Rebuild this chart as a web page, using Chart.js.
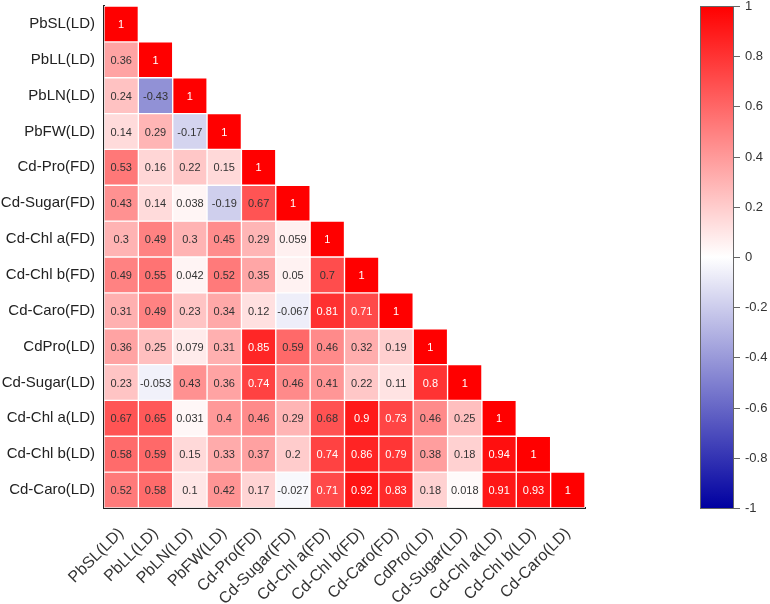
<!DOCTYPE html>
<html>
<head>
  <meta charset="utf-8" />
  <title>Correlation heatmap</title>
  <script src="https://cdn.jsdelivr.net/npm/chart.js"></script>
  <style>
    body { background: white; margin: 0; }
    #wrap { width: 770px; height: 604px; }
  </style>
</head>
<body>
  <div id="wrap"><canvas id="heat"></canvas></div>

  <script>
    const labels = ['PbSL(LD)', 'PbLL(LD)', 'PbLN(LD)', 'PbFW(LD)', 'Cd-Pro(FD)', 'Cd-Sugar(FD)',
      'Cd-Chl a(FD)', 'Cd-Chl b(FD)', 'Cd-Caro(FD)', 'CdPro(LD)', 'Cd-Sugar(LD)',
      'Cd-Chl a(LD)', 'Cd-Chl b(LD)', 'Cd-Caro(LD)'];

    // lower triangle, one row per variable
    const corr = [
      [1],
      [0.36, 1],
      [0.24, -0.43, 1],
      [0.14, 0.29, -0.17, 1],
      [0.53, 0.16, 0.22, 0.15, 1],
      [0.43, 0.14, 0.038, -0.19, 0.67, 1],
      [0.3, 0.49, 0.3, 0.45, 0.29, 0.059, 1],
      [0.49, 0.55, 0.042, 0.52, 0.35, 0.05, 0.7, 1],
      [0.31, 0.49, 0.23, 0.34, 0.12, -0.067, 0.81, 0.71, 1],
      [0.36, 0.25, 0.079, 0.31, 0.85, 0.59, 0.46, 0.32, 0.19, 1],
      [0.23, -0.053, 0.43, 0.36, 0.74, 0.46, 0.41, 0.22, 0.11, 0.8, 1],
      [0.67, 0.65, 0.031, 0.4, 0.46, 0.29, 0.68, 0.9, 0.73, 0.46, 0.25, 1],
      [0.58, 0.59, 0.15, 0.33, 0.37, 0.2, 0.74, 0.86, 0.79, 0.38, 0.18, 0.94, 1],
      [0.52, 0.58, 0.1, 0.42, 0.17, -0.027, 0.71, 0.92, 0.83, 0.18, 0.018, 0.91, 0.93, 1]
    ];

    const cbarTicks = [1, 0.8, 0.6, 0.4, 0.2, 0, -0.2, -0.4, -0.6, -0.8, -1];

    function cellColor(v) {
      if (v >= 0) {
        const c = Math.round(255 * (1 - v));
        return `rgb(255,${c},${c})`;
      }
      const a = -v;
      const c = Math.round(255 * (1 - a));
      const b = Math.round(255 - 95 * a);
      return `rgb(${c},${c},${b})`;
    }

    // one floating-bar dataset per row
    const datasets = corr.map((row, i) => ({
      data: labels.map((_, j) => (j < row.length ? [i - 0.5, i + 0.5] : null)),
      values: row,
      backgroundColor: ctx => cellColor(row[ctx.dataIndex] ?? 0),
      borderColor: 'rgba(255,255,255,0.9)',
      borderWidth: 1,
      borderSkipped: false,
      barPercentage: 1,
      categoryPercentage: 1,
      grouped: false
    }));

    const cellText = {
      id: 'cellText',
      afterDatasetsDraw(chart) {
        const ctx = chart.ctx;
        ctx.save();
        ctx.font = '11px "Liberation Sans", Arial, sans-serif';
        ctx.textAlign = 'center';
        ctx.textBaseline = 'middle';
        chart.data.datasets.forEach((ds, i) => {
          const meta = chart.getDatasetMeta(i);
          ds.values.forEach((v, j) => {
            const el = meta.data[j];
            if (!el) return;
            const p = el.getCenterPoint();
            ctx.fillStyle = v > 0.7 ? '#ffffff' : '#333333';
            ctx.fillText(String(v), p.x, p.y + 1);
          });
        });
        ctx.restore();
      }
    };

    const colorBar = {
      id: 'colorBar',
      afterDraw(chart) {
        const ctx = chart.ctx;
        const { top, bottom } = chart.chartArea;
        const x0 = 700, w = 33;
        ctx.save();
        const g = ctx.createLinearGradient(0, top, 0, bottom);
        g.addColorStop(0, cellColor(1));
        g.addColorStop(0.25, cellColor(0.5));
        g.addColorStop(0.5, cellColor(0));
        g.addColorStop(0.75, cellColor(-0.5));
        g.addColorStop(1, cellColor(-1));
        ctx.fillStyle = g;
        ctx.fillRect(x0, top, w, bottom - top);
        ctx.strokeStyle = '#666';
        ctx.lineWidth = 1;
        ctx.strokeRect(x0 + 0.5, top + 0.5, w, bottom - top);
        ctx.font = '13px "Liberation Sans", Arial, sans-serif';
        ctx.fillStyle = '#333';
        ctx.textAlign = 'left';
        ctx.textBaseline = 'middle';
        cbarTicks.forEach(t => {
          const y = Math.round(top + (1 - t) / 2 * (bottom - top)) + 0.5;
          ctx.beginPath();
          ctx.moveTo(x0 + w, y);
          ctx.lineTo(x0 + w + 7, y);
          ctx.stroke();
          ctx.fillText(String(t), x0 + w + 12, y);
        });
        ctx.restore();
      }
    };

    new Chart(document.getElementById('heat'), {
      type: 'bar',
      data: { labels, datasets },
      options: {
        responsive: true,
        maintainAspectRatio: false,
        animation: false,
        layout: { padding: { top: 6, right: 185, left: 0, bottom: 0 } },
        plugins: {
          legend: { display: false },
          tooltip: { enabled: false }
        },
        scales: {
          x: {
            type: 'category',
            grid: { display: false, drawTicks: false },
            border: { display: true, color: '#222', width: 2 },
            ticks: {
              maxRotation: 45,
              minRotation: 45,
              padding: 16,
              color: '#333',
              font: { family: '"Liberation Sans", Arial, sans-serif', size: 16 }
            },
            afterFit(s) {
              s.height = 96;
              s.paddingLeft = 0;
              s.paddingRight = 0;
            }
          },
          y: {
            type: 'linear',
            reverse: true,
            min: -0.5,
            max: labels.length - 0.5,
            grid: { display: false, drawTicks: false },
            border: { display: true, color: '#222', width: 2 },
            afterBuildTicks(s) {
              s.ticks = labels.map((_, i) => ({ value: i }));
            },
            ticks: {
              padding: 9,
              color: '#222',
              font: { family: '"Liberation Sans", Arial, sans-serif', size: 15 },
              callback: v => labels[v]
            },
            afterFit(s) {
              s.width = 104;
              s.paddingTop = 0;
              s.paddingBottom = 0;
            }
          }
        }
      },
      plugins: [cellText, colorBar]
    });
  </script>
</body>
</html>
